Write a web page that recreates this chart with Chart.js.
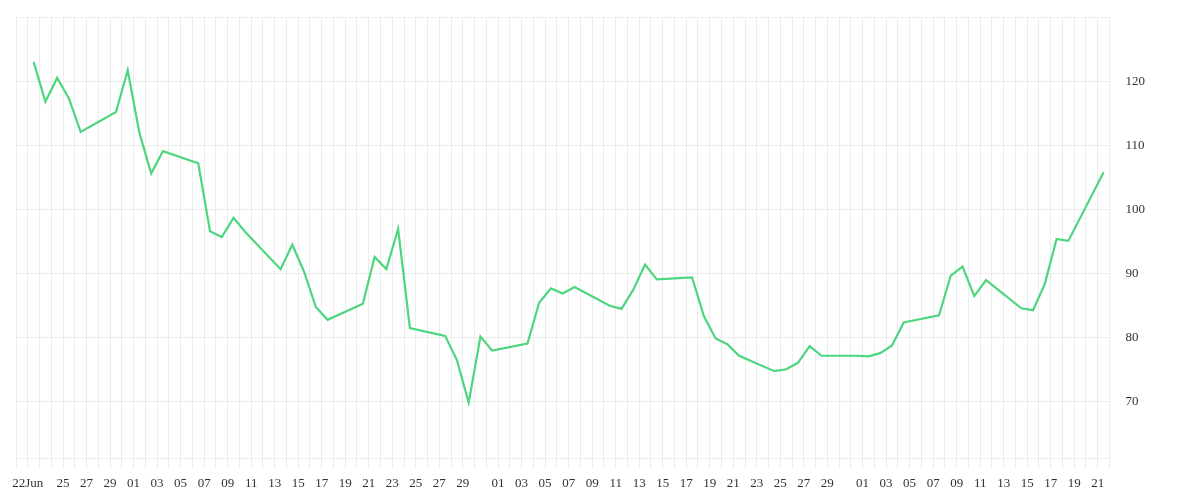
<!DOCTYPE html>
<html>
<head>
<meta charset="utf-8">
<script src="https://cdn.jsdelivr.net/npm/chart.js@4/dist/chart.umd.min.js"></script>
<style>
  body { margin: 0; background: #fff; }
  #wrap { width: 1200px; height: 500px; }
</style>
</head>
<body>
<div id="wrap"><canvas id="chart"></canvas></div>
<script>
// daily axis runs from 21 Jun to 22 Sep 2020, points sit at midday
const axisStart = '2020-06-21';
const axisDays = 93;

const dates = [
  '2020-06-22', '2020-06-23', '2020-06-24', '2020-06-25', '2020-06-26',
  '2020-06-29', '2020-06-30', '2020-07-01', '2020-07-02', '2020-07-03',
  '2020-07-06', '2020-07-07', '2020-07-08', '2020-07-09', '2020-07-10',
  '2020-07-13', '2020-07-14', '2020-07-15', '2020-07-16', '2020-07-17',
  '2020-07-20', '2020-07-21', '2020-07-22', '2020-07-23', '2020-07-24',
  '2020-07-27', '2020-07-28', '2020-07-29', '2020-07-30', '2020-07-31',
  '2020-08-03', '2020-08-04', '2020-08-05', '2020-08-06', '2020-08-07',
  '2020-08-10', '2020-08-11', '2020-08-12', '2020-08-13', '2020-08-14',
  '2020-08-17', '2020-08-18', '2020-08-19', '2020-08-20', '2020-08-21',
  '2020-08-24', '2020-08-25', '2020-08-26', '2020-08-27', '2020-08-28',
  '2020-08-31', '2020-09-01', '2020-09-02', '2020-09-03', '2020-09-04',
  '2020-09-07', '2020-09-08', '2020-09-09', '2020-09-10', '2020-09-11',
  '2020-09-14', '2020-09-15', '2020-09-16', '2020-09-17', '2020-09-18',
  '2020-09-21'
];

const values = [
  123.0, 116.8, 120.5, 117.3, 112.1,
  115.2, 121.7, 111.9, 105.6, 109.1,
  107.2, 96.6, 95.7, 98.7, 96.5,
  90.7, 94.5, 90.3, 84.8, 82.8,
  85.3, 92.6, 90.7, 97.0, 81.5,
  80.3, 76.5, 69.9, 80.2, 78.0,
  79.1, 85.5, 87.7, 86.9, 87.9,
  85.0, 84.5, 87.5, 91.4, 89.1,
  89.4, 83.4, 79.9, 79.0, 77.2,
  74.8, 75.1, 76.1, 78.7, 77.2,
  77.2, 77.1, 77.6, 78.8, 82.4,
  83.5, 89.7, 91.1, 86.5, 89.0,
  84.6, 84.3, 88.4, 95.4, 95.1,
  105.8
];

const yMin = 61.2;
const yMax = 130;
const yLabels = [70, 80, 90, 100, 110, 120];

const DAY = 86400000;
const t0 = Date.parse(axisStart + 'T00:00:00Z');

function dayIndex(s) {
  return Math.round((Date.parse(s + 'T00:00:00Z') - t0) / DAY);
}

function tickLabel(v) {
  const d = new Date(t0 + v * DAY);
  const day = d.getUTCDate();
  if (v === 1) return '22Jun';
  if (v <= 2 || v >= axisDays) return '';
  if (day % 2 === 0 || day === 31) return '';
  return String(day).padStart(2, '0');
}

const points = dates.map((d, i) => ({ x: dayIndex(d) + 0.5, y: values[i] }));

const gridColor = '#ececec';
const font = { family: 'Liberation Serif', size: 13 };

new Chart(document.getElementById('chart'), {
  type: 'line',
  data: {
    datasets: [{
      data: points,
      borderColor: '#4dd67e',
      borderWidth: 2.2,
      pointRadius: 0,
      tension: 0,
      fill: false
    }]
  },
  options: {
    responsive: true,
    maintainAspectRatio: false,
    animation: false,
    layout: { padding: { left: 16, top: 17, right: 39, bottom: 2 } },
    plugins: { legend: { display: false }, tooltip: { enabled: false } },
    scales: {
      x: {
        type: 'linear',
        min: 0,
        max: axisDays,
        grid: { color: gridColor, tickLength: 10 },
        border: { color: gridColor },
        ticks: {
          stepSize: 1,
          maxTicksLimit: 200,
          autoSkip: false,
          maxRotation: 0,
          padding: 7,
          color: '#333',
          font,
          callback: v => tickLabel(v)
        }
      },
      y: {
        position: 'right',
        min: yMin,
        max: yMax,
        grid: { color: gridColor, drawTicks: false },
        border: { color: gridColor },
        afterFit: scale => { scale.paddingTop = 0; },
        ticks: {
          stepSize: 10,
          padding: 16,
          color: '#333',
          font,
          callback: v => yLabels.includes(v) ? String(v) : ''
        }
      }
    }
  }
});
</script>
</body>
</html>
